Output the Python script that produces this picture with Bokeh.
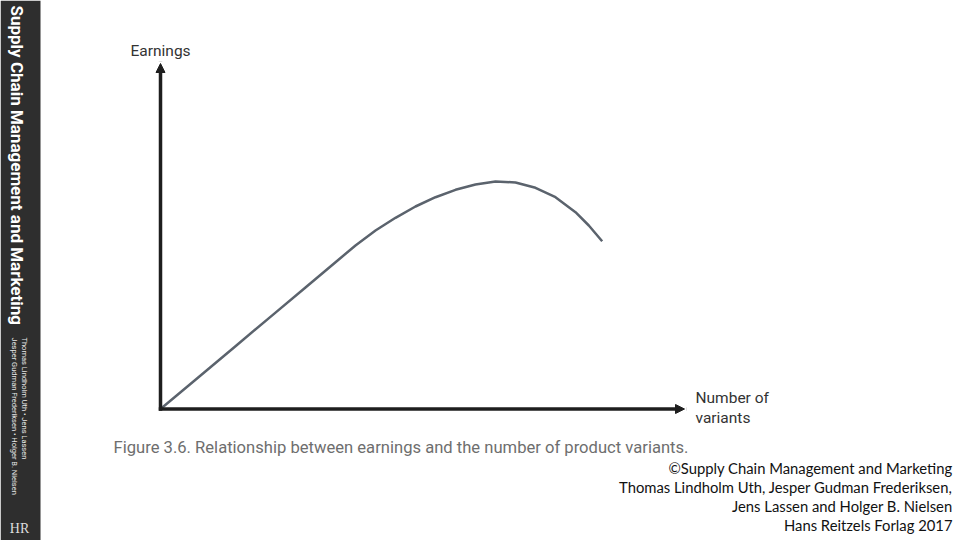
import math
from bokeh.plotting import figure
from bokeh.models import Range1d, Arrow, NormalHead, Label, BoxAnnotation
from bokeh.embed import file_html
from bokeh.resources import INLINE

# ---- data ----
variants = [0.0, 0.668, 1.431, 2.195, 2.767, 3.340, 3.721, 4.103, 4.485, 4.866, 5.248, 5.630,
            6.011, 6.393, 6.775, 7.156, 7.538, 7.920, 8.174, 8.429]
earnings = [0.0, 0.845, 1.818, 2.790, 3.517, 4.249, 4.732, 5.166, 5.534, 5.861, 6.130, 6.344,
            6.498, 6.585, 6.556, 6.402, 6.130, 5.696, 5.311, 4.857]
axis_x_max = 10.0
axis_y_max = 10.0

x_label = ["Number of", "variants"]
y_label = "Earnings"
caption = "Figure 3.6. Relationship between earnings and the number of product variants."
sidebar_title = "Supply Chain Management and Marketing"
sidebar_authors = ["Thomas Lindholm Uth \u2022 Jens Lassen",
                   "Jesper Gudman Frederiksen \u2022 Holger B. Nielsen"]
credits = ["\u00a9Supply Chain Management and Marketing",
           "Thomas Lindholm Uth, Jesper Gudman Frederiksen,",
           "Jens Lassen and Holger B. Nielsen",
           "Hans Reitzels Forlag 2017"]

# ---- layout: picture pixel -> data coordinates ----
OX, OY = 160.0, 408.5       # origin in picture pixels
SX, SY = 52.4, 34.55        # pixels per data unit
def X(px):
    return (px - OX) / SX
def Y(py):
    return (OY - py) / SY

W, H = 960, 540
p = figure(width=W, height=H, output_backend="svg", toolbar_location=None,
           x_range=Range1d(X(0), X(W)), y_range=Range1d(Y(H), Y(0)),
           x_axis_type=None, y_axis_type=None, min_border=0,
           outline_line_color=None, background_fill_color="white")
p.xgrid.visible = False
p.ygrid.visible = False

# sidebar
p.add_layout(BoxAnnotation(left=X(0), right=X(40), bottom=Y(540), top=Y(0),
                           fill_color="#2e2e2e", fill_alpha=1.0, line_color=None))
p.add_layout(Label(x=X(16), y=Y(5), text=sidebar_title, angle=-math.pi / 2,
                   text_align="left", text_baseline="middle", text_color="white",
                   text_font="Roboto", text_font_style="bold", text_font_size="17px"))
for i, t in enumerate(sidebar_authors):
    p.add_layout(Label(x=X(24 - 10 * i), y=Y(337), text=t, angle=-math.pi / 2,
                       text_align="left", text_baseline="middle", text_color="#e8e8e8",
                       text_font="Roboto", text_font_size="7.5px"))
p.add_layout(Label(x=X(19), y=Y(528), text="HR", text_align="center", text_baseline="middle",
                   text_color="#dddddd", text_font="Liberation Serif", text_font_size="14px"))

# curve
p.line(variants, earnings, line_color="#5b636d", line_width=2.5, line_join="round")

# axes as arrows
head_kw = dict(size=9, fill_color="#1e1e1e", line_color="#1e1e1e")
p.add_layout(Arrow(end=NormalHead(**head_kw), x_start=0, y_start=0, x_end=axis_x_max, y_end=0,
                   line_color="#1e1e1e", line_width=3.5, line_cap="square"))
p.add_layout(Arrow(end=NormalHead(**head_kw), x_start=0, y_start=0, x_end=0, y_end=axis_y_max,
                   line_color="#1e1e1e", line_width=3.5, line_cap="square"))

# axis labels
p.add_layout(Label(x=X(130), y=Y(50), text=y_label, text_align="left", text_baseline="middle",
                   text_color="#333333", text_font="Roboto", text_font_size="15.5px"))
for i, t in enumerate(x_label):
    p.add_layout(Label(x=X(695), y=Y(397 + 20 * i), text=t, text_align="left", text_baseline="middle",
                       text_color="#333333", text_font="Roboto", text_font_size="15.5px"))

# caption
p.add_layout(Label(x=X(113), y=Y(447), text=caption, text_align="left", text_baseline="middle",
                   text_color="#6e6e6e", text_font="Roboto", text_font_size="16.6px"))

# credits
for i, t in enumerate(credits):
    p.add_layout(Label(x=X(952), y=Y(467 + 19 * i), text=t, text_align="right", text_baseline="middle",
                       text_color="#111111", text_font="Lato", text_font_size="14.8px"))

open("out.html", "w").write(file_html(p, INLINE))
